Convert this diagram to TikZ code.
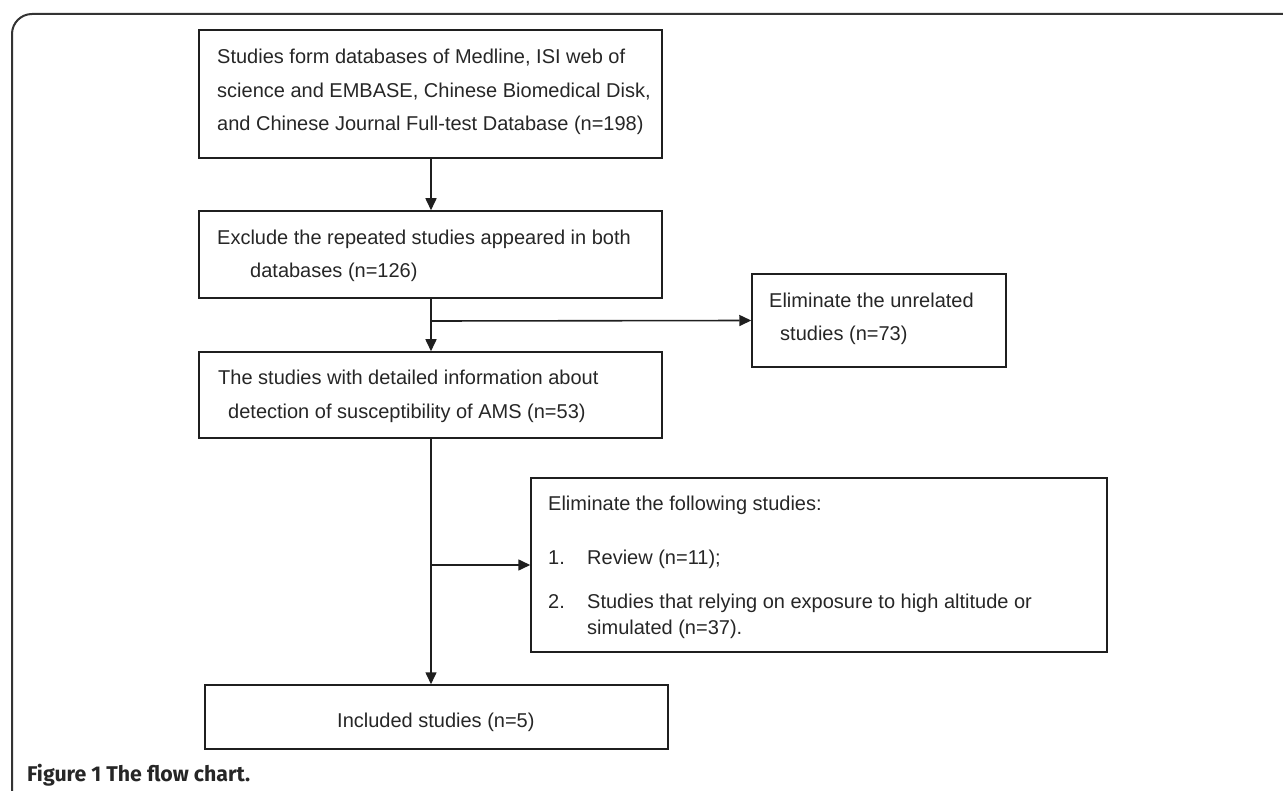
\documentclass[tikz,border=0pt]{standalone}
\usepackage{fontspec}
\setmainfont{Liberation Sans}
\newfontfamily\capfont{Fira Sans}
\usetikzlibrary{arrows.meta}
\tikzset{
  box/.style={draw=black!88, line width=1.5pt, fill=none, inner sep=0pt},
  txt/.style={anchor=base west, inner sep=0pt, text=black!85, font=\fontsize{20}{22}\selectfont},
  conn/.style={draw=black!88, line width=1.6pt},
  arr/.style={conn, -{Triangle[length=12pt,width=11pt]}},
  frame/.style={draw=black!80, line width=2pt, rounded corners=20pt}
}
\begin{document}
\begin{tikzpicture}[x=1pt,y=-1pt]
\useasboundingbox (0,0) rectangle (1283,791);
\draw[frame] (1290,14) -- (12,14) -- (12,800);
% boxes
\node[box, minimum width=463pt, minimum height=128pt] (b1) at (430.5,94) {};
\node[box, minimum width=463pt, minimum height=87pt] (b2) at (430.5,254.5) {};
\node[box, minimum width=254pt, minimum height=93pt] (b3) at (879,320.5) {};
\node[box, minimum width=463pt, minimum height=86pt] (b4) at (430.5,395) {};
\node[box, minimum width=576pt, minimum height=174pt] (b5) at (819,565) {};
\node[box, minimum width=463pt, minimum height=64pt] (b6) at (436.5,717) {};
% texts
\node[txt] (t1a) at (217,64) {Studies form databases of Medline, ISI web of};
\node[txt] (t1b) at (217,98) {science and EMBASE, Chinese Biomedical Disk,};
\node[txt] (t1c) at (217,131) {and Chinese Journal Full-test Database (n=198)};
\node[txt] (t2a) at (217,245) {Exclude the repeated studies appeared in both};
\node[txt] (t2b) at (250,278) {databases (n=126)};
\node[txt] (t3a) at (769,308) {Eliminate the unrelated};
\node[txt] (t3b) at (780,341) {studies (n=73)};
\node[txt] (t4a) at (218,385) {The studies with detailed information about};
\node[txt] (t4b) at (228,419) {detection of susceptibility of AMS (n=53)};
\node[txt] (t5a) at (548,510) {Eliminate the following studies:};
\node[txt] (t5n1) at (548,564) {1.};
\node[txt] (t5b) at (587,564) {Review (n=11);};
\node[txt] (t5n2) at (548,608) {2.};
\node[txt] (t5c) at (587,608) {Studies that relying on exposure to high altitude or};
\node[txt] (t5d) at (587,634) {simulated (n=37).};
\node[txt] (t6) at (337,727) {Included studies (n=5)};
\node[anchor=base west, inner sep=0pt, text=black!85] (cap) at (27,781) {\resizebox{223pt}{!}{\capfont\bfseries Figure 1 The flow chart.}};
% connectors
\coordinate (j1) at (431,321);
\coordinate (j2) at (431,565);
\draw[arr] (b1.south -| j1) -- (b2.north -| j1);
\draw[arr] (b2.south -| j1) -- (b4.north -| j1);
\draw[arr] (j1) -- (b3.west);
\draw[arr] (b4.south -| j1) -- (b6.north -| j1);
\draw[arr] (j2) -- (b5.west);
\end{tikzpicture}
\end{document}
